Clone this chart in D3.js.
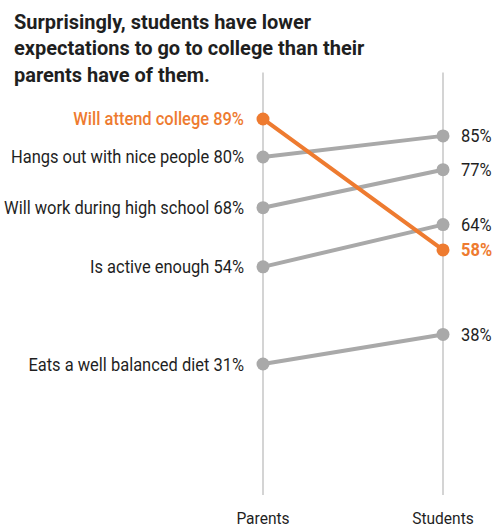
<!DOCTYPE html>
<html><head><meta charset="utf-8">
<script src="https://cdn.jsdelivr.net/npm/d3@7"></script>
<style>body{margin:0;background:#fff}svg{display:block}</style>
</head><body>
<svg id="c" width="495" height="527"></svg>
<script>
const categories = ["Will attend college", "Hangs out with nice people", "Will work during high school", "Is active enough", "Eats a well balanced diet"];
const parents = [89, 80, 68, 54, 31];
const students = [58, 85, 77, 64, 38];
const groups = ["Parents", "Students"];
const highlight = "Will attend college";
const titleLines = ["Surprisingly, students have lower", "expectations to go to college than their", "parents have of them."];

const svg = d3.select("#c");
const FONT = "Roboto, 'Noto Sans', sans-serif";
const SX_T = 0.952, SX_L = 0.915;
const ORANGE = "#ee7b30", GRAY = "#a9a9a9", TEXT = "#1f1f1f";

const x = d3.scalePoint().domain(groups).range([263, 443]);
const y = d3.scaleLinear().domain([0, 100]).range([495, 72.5]);

// title
titleLines.forEach((t, i) => {
  svg.append("g").attr("transform", `translate(14,${28.5 + i * 26.5}) scale(${SX_T},1)`)
    .append("text").text(t)
    .attr("font-family", FONT).attr("font-weight", 700).attr("font-size", 21)
    .attr("fill", TEXT);
});

// axes
groups.forEach(g => {
  svg.append("line").attr("x1", x(g)).attr("x2", x(g)).attr("y1", y(100)).attr("y2", y(0))
    .attr("stroke", "#c6c6c6").attr("stroke-width", 1.5);
  svg.append("g").attr("transform", `translate(${x(g)},524) scale(${SX_L},1)`)
    .append("text").text(g).attr("text-anchor", "middle")
    .attr("font-family", FONT).attr("font-size", 17).attr("fill", TEXT);
});

const data = categories.map((c, i) => ({ c, p: parents[i], s: students[i], hl: c === highlight }));
const ordered = data.filter(d => !d.hl).concat(data.filter(d => d.hl));

const line = d3.line().x(d => x(d[0])).y(d => y(d[1]));
ordered.forEach(d => {
  const col = d.hl ? ORANGE : GRAY;
  const g = svg.append("g");
  g.append("path").datum([["Parents", d.p], ["Students", d.s]]).attr("d", line)
    .attr("stroke", col).attr("stroke-width", 4).attr("fill", "none").attr("stroke-linecap", "round");
  g.append("circle").attr("cx", x("Parents")).attr("cy", y(d.p)).attr("r", 6.5).attr("fill", col);
  g.append("circle").attr("cx", x("Students")).attr("cy", y(d.s)).attr("r", 6.5).attr("fill", col);
  g.append("g").attr("transform", `translate(${x("Parents") - 19},${y(d.p)}) scale(${SX_L},1)`)
    .append("text").text(`${d.c} ${d.p}%`).attr("text-anchor", "end").attr("dy", "0.36em")
    .attr("font-family", FONT).attr("font-size", 18).attr("font-weight", d.hl ? 500 : 400)
    .attr("fill", d.hl ? ORANGE : TEXT);
  g.append("g").attr("transform", `translate(${x("Students") + 18},${y(d.s)}) scale(${SX_L},1)`)
    .append("text").text(`${d.s}%`).attr("text-anchor", "start").attr("dy", "0.36em")
    .attr("font-family", FONT).attr("font-size", 18).attr("font-weight", d.hl ? 700 : 400)
    .attr("fill", d.hl ? ORANGE : TEXT);
});
</script>
</body></html>
